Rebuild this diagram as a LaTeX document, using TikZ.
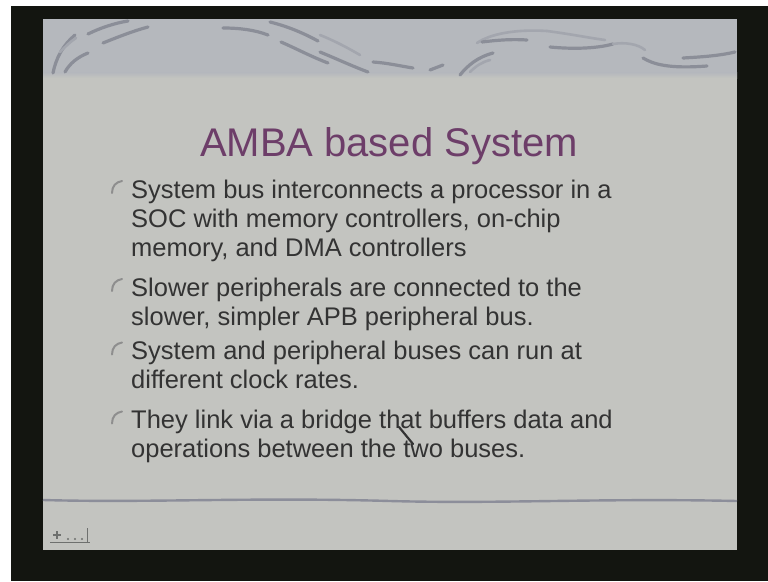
\documentclass[tikz,border=0pt]{standalone}
\usepackage{fontspec}
\setmainfont[Ligatures=NoCommon]{Liberation Sans}
\definecolor{framebk}{HTML}{131510}
\definecolor{bodybg}{HTML}{C3C4C0}
\definecolor{bannerbg}{HTML}{B5B8BD}
\definecolor{swooshgray}{HTML}{8B8E98}
\definecolor{swooshlight}{HTML}{A3A6AE}
\definecolor{titlepurple}{HTML}{6D3E69}
\definecolor{bodygray}{HTML}{333333}
\definecolor{bulletgray}{HTML}{8E8E8E}
\definecolor{sepgray}{HTML}{8C8E9A}
\definecolor{icongray}{HTML}{6E706E}
\begin{document}
\begin{tikzpicture}[x=1pt,y=-1pt,
  swoosh/.style={draw=swooshgray,line width=3.2pt,line cap=round},
  faint/.style={draw=swooshlight,line width=2.6pt,line cap=round},
  titletext/.style={text=titlepurple,font=\fontsize{40}{48}\selectfont,inner sep=0pt},
  bodytext/.style={text=bodygray,font=\fontsize{25.5}{29}\selectfont,align=left,inner sep=0pt},
  bulletmark/.style={draw=bulletgray,line width=2pt,line cap=round},
  sepline/.style={draw=sepgray,line width=2.4pt},
  icon/.style={draw=icongray,line width=1.4pt},
  bulletpic/.pic={\draw[bulletmark] (-9,-5) .. controls (-9,-12) and (-5,-16) .. (1,-17);}]
\useasboundingbox (0,0) rectangle (768,581);
% screen and dark surround
\fill[white] (0,0) rectangle (768,581);
\fill[framebk] (11,6) rectangle (768,581);
% slide body and top banner
\fill[bodybg] (43,19) rectangle (737,550);
\fill[bannerbg] (43,19) rectangle (737,73);
\shade[top color=bannerbg,bottom color=bodybg] (43,72.5) rectangle (737,78);
% banner swooshes, left group
\draw[swoosh] (53,73) .. controls (56,58) and (63,45) .. (75,35);
\draw[swoosh] (65,72) .. controls (70,63) and (78,57) .. (88,53);
\draw[faint]  (60,52) .. controls (66,46) and (70,42) .. (76,38);
\draw[swoosh] (88,34) .. controls (100,28) and (115,23) .. (128,21);
\draw[swoosh] (103,43) .. controls (118,37) and (133,31) .. (148,27);
% banner swooshes, middle group
\draw[swoosh] (223,28) .. controls (240,28) and (255,30) .. (268,35);
\draw[swoosh] (270,22) .. controls (290,27) and (305,34) .. (318,41);
\draw[swoosh] (281,42) .. controls (295,48) and (312,57) .. (328,63);
\draw[faint]  (320,35) .. controls (335,41) and (348,48) .. (360,55);
\draw[swoosh] (320,52) .. controls (337,59) and (352,66) .. (368,72);
\draw[swoosh] (373,62) .. controls (388,63) and (400,66) .. (413,68);
\draw[swoosh] (430,70) -- (443,65);
\draw[swoosh] (460,75) .. controls (468,65) and (478,57) .. (493,53);
\draw[faint]  (470,72) .. controls (476,66) and (482,62) .. (490,60);
% banner swooshes, right group
\draw[faint]  (477,43) .. controls (490,34) and (515,29) .. (547,31);
\draw[swoosh] (482,42) .. controls (498,40) and (512,39) .. (527,40);
\draw[faint]  (547,31) .. controls (570,34) and (590,38) .. (605,40);
\draw[swoosh] (550,47) .. controls (570,49) and (595,49) .. (613,44);
\draw[faint]  (613,44) .. controls (625,42) and (638,44) .. (645,50);
\draw[swoosh] (643,58) .. controls (653,64) and (668,69) .. (707,66);
\draw[swoosh] (683,58) .. controls (700,57) and (718,56) .. (735,52);
% title
\node[titletext,anchor=base] (title) at (389,156) {AMBA based System};
% bullet list (each node is placed by the baseline of its last line)
\pic at (121,198) {bulletpic};
\node[bodytext,anchor=base west] (b1) at (131,256)
  {System bus interconnects a processor in a\\SOC with memory controllers, on-chip\\memory, and DMA controllers};
\pic at (121,296) {bulletpic};
\node[bodytext,anchor=base west] (b2) at (131,325)
  {Slower peripherals are connected to the\\slower, simpler APB peripheral bus.};
\pic at (121,359.5) {bulletpic};
\node[bodytext,anchor=base west] (b3) at (131,388.5)
  {System and peripheral buses can run at\\different clock rates.};
\pic at (121,428.5) {bulletpic};
\node[bodytext,anchor=base west] (b4) at (131,457.5)
  {They link via a bridge that buffers data and\\operations between the two buses.};
% pointer stroke over the last bullet
\draw[draw=bodygray,line width=2.2pt,line cap=round] (399,427) -- (413,444);
% separator rule
\draw[sepline] (43,500) .. controls (150,503) and (250,497) .. (390,501)
  .. controls (500,504) and (600,498) .. (737,501);
% navigation button
\draw[icon] (50,542.5) -- (90,542.5);
\draw[icon] (87.5,528) -- (87.5,542.5);
\draw[icon] (53,535) -- (61,535);
\draw[icon] (57,531) -- (57,539);
\fill[icongray] (68,539) circle (1.2) (75,539) circle (1.2) (82,539) circle (1.2);
\end{tikzpicture}
\end{document}
